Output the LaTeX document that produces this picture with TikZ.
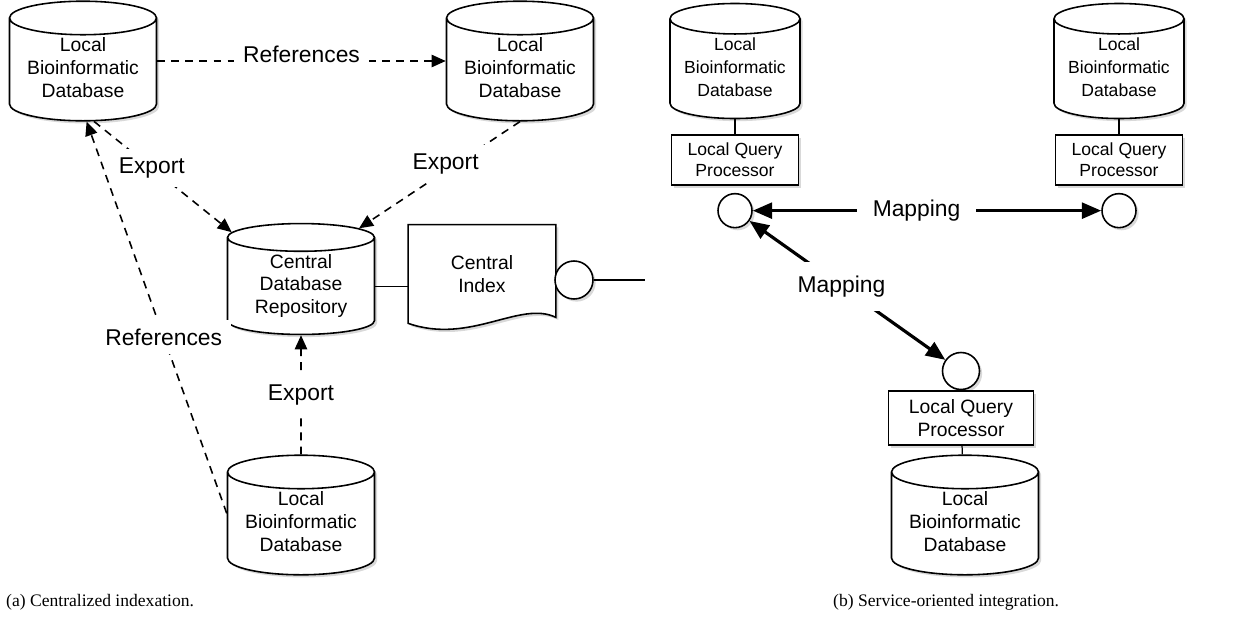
\documentclass[tikz,border=0pt]{standalone}
\usepackage{fontspec}
\setmainfont{Liberation Serif}
\setsansfont{Liberation Sans}
\usetikzlibrary{shapes.geometric,positioning,arrows.meta,shadows}
\tikzset{>={Triangle[length=8pt,width=7pt]}}
\newcommand{\dblines}[1]{\raisebox{2.2pt}{\begin{tabular}{@{}c@{}}#1\end{tabular}}}
\tikzset{
  base/.style={draw, line width=0.9pt, fill=white, align=center,
    font=\sffamily\fontsize{11}{13}\selectfont,
    drop shadow={opacity=0.3, shadow xshift=1.5pt, shadow yshift=-1.5pt}},
  db/.style={base, cylinder, shape border rotate=90, aspect=0.3, anchor=shape center,
    minimum width=2.94cm, minimum height=2.12cm, inner sep=0pt},
  smalldb/.style={db, minimum width=2.6cm, font=\sffamily\fontsize{10}{13}\selectfont},
  lqp/.style={base, rectangle, minimum width=2.9cm, minimum height=1.08cm, inner sep=1pt},
  smalllqp/.style={lqp, minimum width=2.54cm, minimum height=1cm, font=\sffamily\fontsize{10}{12}\selectfont},
  port/.style={base, circle, minimum size=#1, inner sep=0pt},
  lbl/.style={fill=white, inner sep=5pt, font=\sffamily\fontsize{13}{15}\selectfont},
  refline/.style={->, dashed, line width=0.9pt, dash pattern=on 4.5pt off 3.5pt},
  mapline/.style={<->, line width=1.8pt, >={Triangle[length=11pt,width=9pt]}},
  caption/.style={font=\fontsize{10}{12}\selectfont, anchor=west}
}

\begin{document}
\begin{tikzpicture}[x=0.02cm, y=-0.02cm]
\useasboundingbox (0,0) rectangle (1251,616);

% (a) centralized indexation
\node[db] (db1) at (83,61) {\dblines{Local\\Bioinformatic\\Database}};
\node[db] (db2) at (520,61) {\dblines{Local\\Bioinformatic\\Database}};
\node[db] (cdb) at (301,279) {\dblines{Central\\Database\\Repository}};
\node[db] (db3) at (301,515) {\dblines{Local\\Bioinformatic\\Database}};
\node[minimum width=2.94cm, minimum height=1.96cm, inner sep=0pt] (idx) at (482,274) {};
\draw[line width=0.9pt, fill=white, drop shadow={opacity=0.3, shadow xshift=1.5pt, shadow yshift=-1.5pt}]
  (idx.north west) -- (idx.north east) -- ([yshift=0.12cm]idx.south east)
  .. controls (520,300) and (470,345) .. (idx.south west) -- cycle;
\node[font=\sffamily\fontsize{11}{13}\selectfont, align=center] at (482,274) {Central\\Index};
\node[port=0.76cm] (ci) at (574,280) {};
\coordinate (ciout) at (645,280);

\draw[line width=0.7pt] (cdb.east) -- (cdb.east -| idx.west);
\draw[line width=0.7pt] (ci) -- (ciout);

\draw[refline] (db1.east |- db1.shape center) -- node[lbl, yshift=0.14cm]{References} (db2.west |- db2.shape center);
\draw[refline] (db1.-78) -- node[lbl, pos=0.42]{Export} (cdb.142);
\draw[refline] (db2.-90) -- node[lbl, pos=0.4, xshift=-0.2cm]{Export} (cdb.45);
\draw[refline] (db3.90) -- node[lbl]{Export} (cdb.-90);
\draw[refline] (db3.172) -- node[lbl, pos=0.45]{References} (db1.-86);

% (b) service-oriented integration
\node[smalldb] (db4) at (735,61) {\dblines{Local\\Bioinformatic\\Database}};
\node[smalllqp, below=0.3cm of db4] (lqp1) {Local Query\\Processor};
\node[port=0.68cm, below=0.14cm of lqp1] (c1) {};
\node[smalldb] (db5) at (1119,61) {\dblines{Local\\Bioinformatic\\Database}};
\node[smalllqp, below=0.3cm of db5] (lqp2) {Local Query\\Processor};
\node[port=0.68cm, below=0.14cm of lqp2] (c2) {};
\node[port=0.74cm] (c3) at (961,371) {};
\node[lqp, below=0pt of c3] (lqp3) {Local Query\\Processor};
\node[db] (db6) at (965,515) {\dblines{Local\\Bioinformatic\\Database}};

\draw[line width=0.7pt] (db4) -- (lqp1);
\draw[line width=0.7pt] (db5) -- (lqp2);
\draw[line width=0.7pt] (lqp3) -- (db6);

\draw[mapline] (c1) -- node[lbl, pos=0.47, inner xsep=9pt]{Mapping} (c2);
\draw[mapline] (c1) -- node[lbl, pos=0.47, inner sep=8pt]{Mapping} (c3);

% captions
\node[caption] (capa) at (0,602) {(a) Centralized indexation.};
\node[caption] (capb) at (827,602) {(b) Service-oriented integration.};
\end{tikzpicture}
\end{document}
